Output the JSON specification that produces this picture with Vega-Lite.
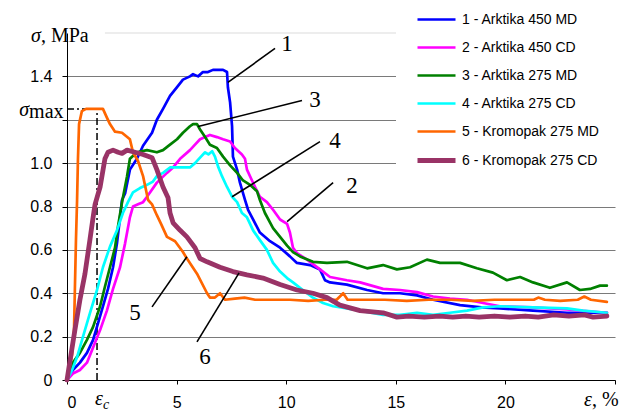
{
  "$schema": "https://vega.github.io/schema/vega-lite/v6.json",
  "width": 548,
  "height": 347,
  "autosize": {"type": "none"},
  "padding": {"left": 67, "top": 33, "right": 13, "bottom": 33},
  "background": "white",
  "config": {
    "view": {"stroke": null},
    "font": "Liberation Sans"
  },
  "datasets": {
    "curves": [
      {"curve": "1 - Arktika 450 MD", "x": 0, "y": 0},
      {"curve": "1 - Arktika 450 MD", "x": 0.27, "y": 0.046},
      {"curve": "1 - Arktika 450 MD", "x": 0.59, "y": 0.08},
      {"curve": "1 - Arktika 450 MD", "x": 0.91, "y": 0.125},
      {"curve": "1 - Arktika 450 MD", "x": 1.19, "y": 0.185},
      {"curve": "1 - Arktika 450 MD", "x": 1.41, "y": 0.26},
      {"curve": "1 - Arktika 450 MD", "x": 1.64, "y": 0.34},
      {"curve": "1 - Arktika 450 MD", "x": 1.87, "y": 0.42},
      {"curve": "1 - Arktika 450 MD", "x": 2.1, "y": 0.52},
      {"curve": "1 - Arktika 450 MD", "x": 2.28, "y": 0.63},
      {"curve": "1 - Arktika 450 MD", "x": 2.42, "y": 0.75},
      {"curve": "1 - Arktika 450 MD", "x": 2.51, "y": 0.83},
      {"curve": "1 - Arktika 450 MD", "x": 2.65, "y": 0.86},
      {"curve": "1 - Arktika 450 MD", "x": 2.87, "y": 0.97},
      {"curve": "1 - Arktika 450 MD", "x": 3.19, "y": 1.02},
      {"curve": "1 - Arktika 450 MD", "x": 3.47, "y": 1.08},
      {"curve": "1 - Arktika 450 MD", "x": 3.88, "y": 1.14},
      {"curve": "1 - Arktika 450 MD", "x": 4.1, "y": 1.2},
      {"curve": "1 - Arktika 450 MD", "x": 4.38, "y": 1.25},
      {"curve": "1 - Arktika 450 MD", "x": 4.7, "y": 1.31},
      {"curve": "1 - Arktika 450 MD", "x": 5.02, "y": 1.35},
      {"curve": "1 - Arktika 450 MD", "x": 5.29, "y": 1.385},
      {"curve": "1 - Arktika 450 MD", "x": 5.61, "y": 1.4},
      {"curve": "1 - Arktika 450 MD", "x": 5.75, "y": 1.41},
      {"curve": "1 - Arktika 450 MD", "x": 5.98, "y": 1.4},
      {"curve": "1 - Arktika 450 MD", "x": 6.2, "y": 1.42},
      {"curve": "1 - Arktika 450 MD", "x": 6.43, "y": 1.42},
      {"curve": "1 - Arktika 450 MD", "x": 6.66, "y": 1.43},
      {"curve": "1 - Arktika 450 MD", "x": 7.12, "y": 1.43},
      {"curve": "1 - Arktika 450 MD", "x": 7.3, "y": 1.42},
      {"curve": "1 - Arktika 450 MD", "x": 7.34, "y": 1.35},
      {"curve": "1 - Arktika 450 MD", "x": 7.44, "y": 1.28},
      {"curve": "1 - Arktika 450 MD", "x": 7.53, "y": 1.17},
      {"curve": "1 - Arktika 450 MD", "x": 7.57, "y": 1.03},
      {"curve": "1 - Arktika 450 MD", "x": 7.76, "y": 0.97},
      {"curve": "1 - Arktika 450 MD", "x": 7.89, "y": 0.91},
      {"curve": "1 - Arktika 450 MD", "x": 8.12, "y": 0.83},
      {"curve": "1 - Arktika 450 MD", "x": 8.26, "y": 0.785},
      {"curve": "1 - Arktika 450 MD", "x": 8.44, "y": 0.75},
      {"curve": "1 - Arktika 450 MD", "x": 8.8, "y": 0.68},
      {"curve": "1 - Arktika 450 MD", "x": 9.26, "y": 0.64},
      {"curve": "1 - Arktika 450 MD", "x": 9.72, "y": 0.61},
      {"curve": "1 - Arktika 450 MD", "x": 10.17, "y": 0.57},
      {"curve": "1 - Arktika 450 MD", "x": 10.49, "y": 0.54},
      {"curve": "1 - Arktika 450 MD", "x": 11.09, "y": 0.53},
      {"curve": "1 - Arktika 450 MD", "x": 11.54, "y": 0.51},
      {"curve": "1 - Arktika 450 MD", "x": 11.77, "y": 0.46},
      {"curve": "1 - Arktika 450 MD", "x": 12.0, "y": 0.45},
      {"curve": "1 - Arktika 450 MD", "x": 12.77, "y": 0.44},
      {"curve": "1 - Arktika 450 MD", "x": 13.69, "y": 0.415},
      {"curve": "1 - Arktika 450 MD", "x": 14.42, "y": 0.4},
      {"curve": "1 - Arktika 450 MD", "x": 15.19, "y": 0.4},
      {"curve": "1 - Arktika 450 MD", "x": 15.97, "y": 0.39},
      {"curve": "1 - Arktika 450 MD", "x": 16.7, "y": 0.37},
      {"curve": "1 - Arktika 450 MD", "x": 17.93, "y": 0.345},
      {"curve": "1 - Arktika 450 MD", "x": 18.9, "y": 0.335},
      {"curve": "1 - Arktika 450 MD", "x": 19.75, "y": 0.33},
      {"curve": "1 - Arktika 450 MD", "x": 21.26, "y": 0.32},
      {"curve": "1 - Arktika 450 MD", "x": 22.81, "y": 0.31},
      {"curve": "1 - Arktika 450 MD", "x": 24.63, "y": 0.31},

      {"curve": "2 - Arktika 450 CD", "x": 0, "y": 0},
      {"curve": "2 - Arktika 450 CD", "x": 0.27, "y": 0.03},
      {"curve": "2 - Arktika 450 CD", "x": 0.59, "y": 0.046},
      {"curve": "2 - Arktika 450 CD", "x": 0.91, "y": 0.08},
      {"curve": "2 - Arktika 450 CD", "x": 1.19, "y": 0.15},
      {"curve": "2 - Arktika 450 CD", "x": 1.51, "y": 0.23},
      {"curve": "2 - Arktika 450 CD", "x": 1.82, "y": 0.32},
      {"curve": "2 - Arktika 450 CD", "x": 2.1, "y": 0.42},
      {"curve": "2 - Arktika 450 CD", "x": 2.42, "y": 0.52},
      {"curve": "2 - Arktika 450 CD", "x": 2.65, "y": 0.63},
      {"curve": "2 - Arktika 450 CD", "x": 2.87, "y": 0.75},
      {"curve": "2 - Arktika 450 CD", "x": 3.01, "y": 0.8},
      {"curve": "2 - Arktika 450 CD", "x": 3.24, "y": 0.81},
      {"curve": "2 - Arktika 450 CD", "x": 3.47, "y": 0.82},
      {"curve": "2 - Arktika 450 CD", "x": 3.65, "y": 0.845},
      {"curve": "2 - Arktika 450 CD", "x": 4.1, "y": 0.91},
      {"curve": "2 - Arktika 450 CD", "x": 4.56, "y": 0.955},
      {"curve": "2 - Arktika 450 CD", "x": 4.84, "y": 0.98},
      {"curve": "2 - Arktika 450 CD", "x": 5.16, "y": 1.02},
      {"curve": "2 - Arktika 450 CD", "x": 5.61, "y": 1.06},
      {"curve": "2 - Arktika 450 CD", "x": 5.84, "y": 1.085},
      {"curve": "2 - Arktika 450 CD", "x": 6.07, "y": 1.11},
      {"curve": "2 - Arktika 450 CD", "x": 6.3, "y": 1.12},
      {"curve": "2 - Arktika 450 CD", "x": 6.52, "y": 1.13},
      {"curve": "2 - Arktika 450 CD", "x": 6.84, "y": 1.12},
      {"curve": "2 - Arktika 450 CD", "x": 7.12, "y": 1.11},
      {"curve": "2 - Arktika 450 CD", "x": 7.44, "y": 1.1},
      {"curve": "2 - Arktika 450 CD", "x": 7.66, "y": 1.07},
      {"curve": "2 - Arktika 450 CD", "x": 7.98, "y": 1.04},
      {"curve": "2 - Arktika 450 CD", "x": 8.12, "y": 1.02},
      {"curve": "2 - Arktika 450 CD", "x": 8.21, "y": 0.97},
      {"curve": "2 - Arktika 450 CD", "x": 8.44, "y": 0.92},
      {"curve": "2 - Arktika 450 CD", "x": 8.58, "y": 0.89},
      {"curve": "2 - Arktika 450 CD", "x": 8.8, "y": 0.845},
      {"curve": "2 - Arktika 450 CD", "x": 9.12, "y": 0.82},
      {"curve": "2 - Arktika 450 CD", "x": 9.4, "y": 0.785},
      {"curve": "2 - Arktika 450 CD", "x": 9.72, "y": 0.74},
      {"curve": "2 - Arktika 450 CD", "x": 10.04, "y": 0.72},
      {"curve": "2 - Arktika 450 CD", "x": 10.17, "y": 0.68},
      {"curve": "2 - Arktika 450 CD", "x": 10.31, "y": 0.61},
      {"curve": "2 - Arktika 450 CD", "x": 10.49, "y": 0.585},
      {"curve": "2 - Arktika 450 CD", "x": 10.95, "y": 0.555},
      {"curve": "2 - Arktika 450 CD", "x": 11.54, "y": 0.51},
      {"curve": "2 - Arktika 450 CD", "x": 12.0, "y": 0.475},
      {"curve": "2 - Arktika 450 CD", "x": 12.77, "y": 0.46},
      {"curve": "2 - Arktika 450 CD", "x": 13.37, "y": 0.45},
      {"curve": "2 - Arktika 450 CD", "x": 14.42, "y": 0.42},
      {"curve": "2 - Arktika 450 CD", "x": 15.19, "y": 0.415},
      {"curve": "2 - Arktika 450 CD", "x": 15.97, "y": 0.405},
      {"curve": "2 - Arktika 450 CD", "x": 16.7, "y": 0.385},
      {"curve": "2 - Arktika 450 CD", "x": 17.47, "y": 0.375},
      {"curve": "2 - Arktika 450 CD", "x": 18.25, "y": 0.37},
      {"curve": "2 - Arktika 450 CD", "x": 18.98, "y": 0.355},
      {"curve": "2 - Arktika 450 CD", "x": 19.75, "y": 0.34},
      {"curve": "2 - Arktika 450 CD", "x": 21.26, "y": 0.335},
      {"curve": "2 - Arktika 450 CD", "x": 22.81, "y": 0.325},
      {"curve": "2 - Arktika 450 CD", "x": 24.63, "y": 0.31},

      {"curve": "3 - Arktika 275 MD", "x": 0, "y": 0},
      {"curve": "3 - Arktika 275 MD", "x": 0.27, "y": 0.08},
      {"curve": "3 - Arktika 275 MD", "x": 0.59, "y": 0.125},
      {"curve": "3 - Arktika 275 MD", "x": 0.91, "y": 0.185},
      {"curve": "3 - Arktika 275 MD", "x": 1.19, "y": 0.245},
      {"curve": "3 - Arktika 275 MD", "x": 1.51, "y": 0.34},
      {"curve": "3 - Arktika 275 MD", "x": 1.73, "y": 0.43},
      {"curve": "3 - Arktika 275 MD", "x": 1.96, "y": 0.52},
      {"curve": "3 - Arktika 275 MD", "x": 2.19, "y": 0.61},
      {"curve": "3 - Arktika 275 MD", "x": 2.33, "y": 0.71},
      {"curve": "3 - Arktika 275 MD", "x": 2.51, "y": 0.82},
      {"curve": "3 - Arktika 275 MD", "x": 2.74, "y": 0.94},
      {"curve": "3 - Arktika 275 MD", "x": 2.87, "y": 1.02},
      {"curve": "3 - Arktika 275 MD", "x": 3.19, "y": 1.05},
      {"curve": "3 - Arktika 275 MD", "x": 3.65, "y": 1.06},
      {"curve": "3 - Arktika 275 MD", "x": 4.1, "y": 1.05},
      {"curve": "3 - Arktika 275 MD", "x": 4.38, "y": 1.06},
      {"curve": "3 - Arktika 275 MD", "x": 4.7, "y": 1.085},
      {"curve": "3 - Arktika 275 MD", "x": 5.02, "y": 1.11},
      {"curve": "3 - Arktika 275 MD", "x": 5.29, "y": 1.14},
      {"curve": "3 - Arktika 275 MD", "x": 5.61, "y": 1.17},
      {"curve": "3 - Arktika 275 MD", "x": 5.75, "y": 1.18},
      {"curve": "3 - Arktika 275 MD", "x": 5.93, "y": 1.18},
      {"curve": "3 - Arktika 275 MD", "x": 6.07, "y": 1.155},
      {"curve": "3 - Arktika 275 MD", "x": 6.3, "y": 1.12},
      {"curve": "3 - Arktika 275 MD", "x": 6.52, "y": 1.085},
      {"curve": "3 - Arktika 275 MD", "x": 6.84, "y": 1.07},
      {"curve": "3 - Arktika 275 MD", "x": 7.12, "y": 1.03},
      {"curve": "3 - Arktika 275 MD", "x": 7.44, "y": 0.99},
      {"curve": "3 - Arktika 275 MD", "x": 7.76, "y": 0.955},
      {"curve": "3 - Arktika 275 MD", "x": 8.03, "y": 0.92},
      {"curve": "3 - Arktika 275 MD", "x": 8.35, "y": 0.9},
      {"curve": "3 - Arktika 275 MD", "x": 8.67, "y": 0.87},
      {"curve": "3 - Arktika 275 MD", "x": 8.8, "y": 0.83},
      {"curve": "3 - Arktika 275 MD", "x": 9.03, "y": 0.77},
      {"curve": "3 - Arktika 275 MD", "x": 9.4, "y": 0.7},
      {"curve": "3 - Arktika 275 MD", "x": 9.72, "y": 0.66},
      {"curve": "3 - Arktika 275 MD", "x": 10.04, "y": 0.62},
      {"curve": "3 - Arktika 275 MD", "x": 10.31, "y": 0.59},
      {"curve": "3 - Arktika 275 MD", "x": 10.63, "y": 0.57},
      {"curve": "3 - Arktika 275 MD", "x": 11.22, "y": 0.545},
      {"curve": "3 - Arktika 275 MD", "x": 11.86, "y": 0.54},
      {"curve": "3 - Arktika 275 MD", "x": 12.77, "y": 0.545},
      {"curve": "3 - Arktika 275 MD", "x": 13.69, "y": 0.515},
      {"curve": "3 - Arktika 275 MD", "x": 14.42, "y": 0.53},
      {"curve": "3 - Arktika 275 MD", "x": 15.05, "y": 0.51},
      {"curve": "3 - Arktika 275 MD", "x": 15.65, "y": 0.52},
      {"curve": "3 - Arktika 275 MD", "x": 16.42, "y": 0.555},
      {"curve": "3 - Arktika 275 MD", "x": 17.02, "y": 0.54},
      {"curve": "3 - Arktika 275 MD", "x": 17.93, "y": 0.54},
      {"curve": "3 - Arktika 275 MD", "x": 18.7, "y": 0.515},
      {"curve": "3 - Arktika 275 MD", "x": 19.43, "y": 0.495},
      {"curve": "3 - Arktika 275 MD", "x": 20.07, "y": 0.46},
      {"curve": "3 - Arktika 275 MD", "x": 20.67, "y": 0.475},
      {"curve": "3 - Arktika 275 MD", "x": 21.26, "y": 0.45},
      {"curve": "3 - Arktika 275 MD", "x": 22.03, "y": 0.425},
      {"curve": "3 - Arktika 275 MD", "x": 22.81, "y": 0.45},
      {"curve": "3 - Arktika 275 MD", "x": 23.4, "y": 0.415},
      {"curve": "3 - Arktika 275 MD", "x": 23.86, "y": 0.42},
      {"curve": "3 - Arktika 275 MD", "x": 24.32, "y": 0.435},
      {"curve": "3 - Arktika 275 MD", "x": 24.63, "y": 0.435},

      {"curve": "4 - Arktika 275 CD", "x": 0, "y": 0},
      {"curve": "4 - Arktika 275 CD", "x": 0.23, "y": 0.046},
      {"curve": "4 - Arktika 275 CD", "x": 0.46, "y": 0.106},
      {"curve": "4 - Arktika 275 CD", "x": 0.73, "y": 0.2},
      {"curve": "4 - Arktika 275 CD", "x": 1.05, "y": 0.31},
      {"curve": "4 - Arktika 275 CD", "x": 1.37, "y": 0.415},
      {"curve": "4 - Arktika 275 CD", "x": 1.64, "y": 0.52},
      {"curve": "4 - Arktika 275 CD", "x": 1.96, "y": 0.615},
      {"curve": "4 - Arktika 275 CD", "x": 2.28, "y": 0.69},
      {"curve": "4 - Arktika 275 CD", "x": 2.55, "y": 0.77},
      {"curve": "4 - Arktika 275 CD", "x": 2.78, "y": 0.82},
      {"curve": "4 - Arktika 275 CD", "x": 3.01, "y": 0.865},
      {"curve": "4 - Arktika 275 CD", "x": 3.33, "y": 0.885},
      {"curve": "4 - Arktika 275 CD", "x": 3.65, "y": 0.9},
      {"curve": "4 - Arktika 275 CD", "x": 3.92, "y": 0.915},
      {"curve": "4 - Arktika 275 CD", "x": 4.1, "y": 0.94},
      {"curve": "4 - Arktika 275 CD", "x": 4.38, "y": 0.955},
      {"curve": "4 - Arktika 275 CD", "x": 4.7, "y": 0.98},
      {"curve": "4 - Arktika 275 CD", "x": 5.61, "y": 0.98},
      {"curve": "4 - Arktika 275 CD", "x": 5.84, "y": 1.0},
      {"curve": "4 - Arktika 275 CD", "x": 6.07, "y": 1.025},
      {"curve": "4 - Arktika 275 CD", "x": 6.3, "y": 1.05},
      {"curve": "4 - Arktika 275 CD", "x": 6.45, "y": 1.04},
      {"curve": "4 - Arktika 275 CD", "x": 6.62, "y": 1.055},
      {"curve": "4 - Arktika 275 CD", "x": 6.75, "y": 1.03},
      {"curve": "4 - Arktika 275 CD", "x": 6.89, "y": 0.985},
      {"curve": "4 - Arktika 275 CD", "x": 7.07, "y": 0.94},
      {"curve": "4 - Arktika 275 CD", "x": 7.3, "y": 0.89},
      {"curve": "4 - Arktika 275 CD", "x": 7.53, "y": 0.845},
      {"curve": "4 - Arktika 275 CD", "x": 7.76, "y": 0.82},
      {"curve": "4 - Arktika 275 CD", "x": 7.98, "y": 0.77},
      {"curve": "4 - Arktika 275 CD", "x": 8.21, "y": 0.75},
      {"curve": "4 - Arktika 275 CD", "x": 8.49, "y": 0.69},
      {"curve": "4 - Arktika 275 CD", "x": 8.8, "y": 0.645},
      {"curve": "4 - Arktika 275 CD", "x": 9.12, "y": 0.6},
      {"curve": "4 - Arktika 275 CD", "x": 9.4, "y": 0.54},
      {"curve": "4 - Arktika 275 CD", "x": 9.72, "y": 0.5},
      {"curve": "4 - Arktika 275 CD", "x": 10.04, "y": 0.47},
      {"curve": "4 - Arktika 275 CD", "x": 10.31, "y": 0.45},
      {"curve": "4 - Arktika 275 CD", "x": 10.63, "y": 0.425},
      {"curve": "4 - Arktika 275 CD", "x": 10.95, "y": 0.4},
      {"curve": "4 - Arktika 275 CD", "x": 11.22, "y": 0.38},
      {"curve": "4 - Arktika 275 CD", "x": 11.68, "y": 0.355},
      {"curve": "4 - Arktika 275 CD", "x": 12.14, "y": 0.34},
      {"curve": "4 - Arktika 275 CD", "x": 12.77, "y": 0.33},
      {"curve": "4 - Arktika 275 CD", "x": 13.37, "y": 0.32},
      {"curve": "4 - Arktika 275 CD", "x": 14.42, "y": 0.3},
      {"curve": "4 - Arktika 275 CD", "x": 15.19, "y": 0.3},
      {"curve": "4 - Arktika 275 CD", "x": 15.97, "y": 0.31},
      {"curve": "4 - Arktika 275 CD", "x": 16.7, "y": 0.3},
      {"curve": "4 - Arktika 275 CD", "x": 17.47, "y": 0.31},
      {"curve": "4 - Arktika 275 CD", "x": 18.25, "y": 0.32},
      {"curve": "4 - Arktika 275 CD", "x": 18.98, "y": 0.335},
      {"curve": "4 - Arktika 275 CD", "x": 19.75, "y": 0.34},
      {"curve": "4 - Arktika 275 CD", "x": 21.26, "y": 0.335},
      {"curve": "4 - Arktika 275 CD", "x": 22.81, "y": 0.33},
      {"curve": "4 - Arktika 275 CD", "x": 23.54, "y": 0.32},
      {"curve": "4 - Arktika 275 CD", "x": 24.63, "y": 0.31},

      {"curve": "5 - Kromopak 275 MD", "x": 0, "y": 0},
      {"curve": "5 - Kromopak 275 MD", "x": 0.23, "y": 0.115},
      {"curve": "5 - Kromopak 275 MD", "x": 0.32, "y": 0.23},
      {"curve": "5 - Kromopak 275 MD", "x": 0.36, "y": 0.42},
      {"curve": "5 - Kromopak 275 MD", "x": 0.41, "y": 0.65},
      {"curve": "5 - Kromopak 275 MD", "x": 0.46, "y": 0.83},
      {"curve": "5 - Kromopak 275 MD", "x": 0.5, "y": 1.02},
      {"curve": "5 - Kromopak 275 MD", "x": 0.55, "y": 1.18},
      {"curve": "5 - Kromopak 275 MD", "x": 0.68, "y": 1.24},
      {"curve": "5 - Kromopak 275 MD", "x": 0.87, "y": 1.25},
      {"curve": "5 - Kromopak 275 MD", "x": 1.64, "y": 1.25},
      {"curve": "5 - Kromopak 275 MD", "x": 1.82, "y": 1.21},
      {"curve": "5 - Kromopak 275 MD", "x": 1.96, "y": 1.18},
      {"curve": "5 - Kromopak 275 MD", "x": 2.19, "y": 1.145},
      {"curve": "5 - Kromopak 275 MD", "x": 2.51, "y": 1.14},
      {"curve": "5 - Kromopak 275 MD", "x": 2.87, "y": 1.11},
      {"curve": "5 - Kromopak 275 MD", "x": 3.01, "y": 1.05},
      {"curve": "5 - Kromopak 275 MD", "x": 3.24, "y": 1.01},
      {"curve": "5 - Kromopak 275 MD", "x": 3.47, "y": 0.94},
      {"curve": "5 - Kromopak 275 MD", "x": 3.7, "y": 0.83},
      {"curve": "5 - Kromopak 275 MD", "x": 3.88, "y": 0.81},
      {"curve": "5 - Kromopak 275 MD", "x": 4.1, "y": 0.76},
      {"curve": "5 - Kromopak 275 MD", "x": 4.29, "y": 0.72},
      {"curve": "5 - Kromopak 275 MD", "x": 4.56, "y": 0.66},
      {"curve": "5 - Kromopak 275 MD", "x": 4.93, "y": 0.64},
      {"curve": "5 - Kromopak 275 MD", "x": 5.29, "y": 0.59},
      {"curve": "5 - Kromopak 275 MD", "x": 5.47, "y": 0.56},
      {"curve": "5 - Kromopak 275 MD", "x": 5.93, "y": 0.49},
      {"curve": "5 - Kromopak 275 MD", "x": 6.39, "y": 0.4},
      {"curve": "5 - Kromopak 275 MD", "x": 6.52, "y": 0.38},
      {"curve": "5 - Kromopak 275 MD", "x": 6.75, "y": 0.38},
      {"curve": "5 - Kromopak 275 MD", "x": 6.98, "y": 0.4},
      {"curve": "5 - Kromopak 275 MD", "x": 7.21, "y": 0.37},
      {"curve": "5 - Kromopak 275 MD", "x": 7.66, "y": 0.375},
      {"curve": "5 - Kromopak 275 MD", "x": 8.1, "y": 0.38},
      {"curve": "5 - Kromopak 275 MD", "x": 8.58, "y": 0.37},
      {"curve": "5 - Kromopak 275 MD", "x": 9.26, "y": 0.37},
      {"curve": "5 - Kromopak 275 MD", "x": 10.17, "y": 0.37},
      {"curve": "5 - Kromopak 275 MD", "x": 11.0, "y": 0.365},
      {"curve": "5 - Kromopak 275 MD", "x": 11.8, "y": 0.37},
      {"curve": "5 - Kromopak 275 MD", "x": 12.3, "y": 0.37},
      {"curve": "5 - Kromopak 275 MD", "x": 12.6, "y": 0.4},
      {"curve": "5 - Kromopak 275 MD", "x": 12.8, "y": 0.37},
      {"curve": "5 - Kromopak 275 MD", "x": 13.5, "y": 0.37},
      {"curve": "5 - Kromopak 275 MD", "x": 14.5, "y": 0.37},
      {"curve": "5 - Kromopak 275 MD", "x": 15.5, "y": 0.365},
      {"curve": "5 - Kromopak 275 MD", "x": 16.5, "y": 0.37},
      {"curve": "5 - Kromopak 275 MD", "x": 17.5, "y": 0.37},
      {"curve": "5 - Kromopak 275 MD", "x": 18.5, "y": 0.365},
      {"curve": "5 - Kromopak 275 MD", "x": 19.5, "y": 0.37},
      {"curve": "5 - Kromopak 275 MD", "x": 20.5, "y": 0.37},
      {"curve": "5 - Kromopak 275 MD", "x": 21.3, "y": 0.37},
      {"curve": "5 - Kromopak 275 MD", "x": 21.5, "y": 0.38},
      {"curve": "5 - Kromopak 275 MD", "x": 21.8, "y": 0.37},
      {"curve": "5 - Kromopak 275 MD", "x": 22.5, "y": 0.365},
      {"curve": "5 - Kromopak 275 MD", "x": 23.3, "y": 0.37},
      {"curve": "5 - Kromopak 275 MD", "x": 23.6, "y": 0.385},
      {"curve": "5 - Kromopak 275 MD", "x": 23.9, "y": 0.37},
      {"curve": "5 - Kromopak 275 MD", "x": 24.63, "y": 0.36},

      {"curve": "6 - Kromopak 275 CD", "x": 0, "y": 0},
      {"curve": "6 - Kromopak 275 CD", "x": 0.14, "y": 0.09},
      {"curve": "6 - Kromopak 275 CD", "x": 0.36, "y": 0.23},
      {"curve": "6 - Kromopak 275 CD", "x": 0.59, "y": 0.37},
      {"curve": "6 - Kromopak 275 CD", "x": 0.82, "y": 0.49},
      {"curve": "6 - Kromopak 275 CD", "x": 1.05, "y": 0.65},
      {"curve": "6 - Kromopak 275 CD", "x": 1.19, "y": 0.75},
      {"curve": "6 - Kromopak 275 CD", "x": 1.28, "y": 0.81},
      {"curve": "6 - Kromopak 275 CD", "x": 1.51, "y": 0.89},
      {"curve": "6 - Kromopak 275 CD", "x": 1.73, "y": 1.02},
      {"curve": "6 - Kromopak 275 CD", "x": 1.87, "y": 1.05},
      {"curve": "6 - Kromopak 275 CD", "x": 2.1, "y": 1.06},
      {"curve": "6 - Kromopak 275 CD", "x": 2.33, "y": 1.05},
      {"curve": "6 - Kromopak 275 CD", "x": 2.51, "y": 1.045},
      {"curve": "6 - Kromopak 275 CD", "x": 2.74, "y": 1.06},
      {"curve": "6 - Kromopak 275 CD", "x": 3.1, "y": 1.05},
      {"curve": "6 - Kromopak 275 CD", "x": 3.47, "y": 1.04},
      {"curve": "6 - Kromopak 275 CD", "x": 3.88, "y": 1.025},
      {"curve": "6 - Kromopak 275 CD", "x": 4.1, "y": 0.97},
      {"curve": "6 - Kromopak 275 CD", "x": 4.38, "y": 0.89},
      {"curve": "6 - Kromopak 275 CD", "x": 4.61, "y": 0.84},
      {"curve": "6 - Kromopak 275 CD", "x": 4.7, "y": 0.77},
      {"curve": "6 - Kromopak 275 CD", "x": 4.84, "y": 0.725},
      {"curve": "6 - Kromopak 275 CD", "x": 5.16, "y": 0.69},
      {"curve": "6 - Kromopak 275 CD", "x": 5.47, "y": 0.66},
      {"curve": "6 - Kromopak 275 CD", "x": 5.84, "y": 0.61},
      {"curve": "6 - Kromopak 275 CD", "x": 6.07, "y": 0.56},
      {"curve": "6 - Kromopak 275 CD", "x": 6.39, "y": 0.545},
      {"curve": "6 - Kromopak 275 CD", "x": 6.98, "y": 0.52},
      {"curve": "6 - Kromopak 275 CD", "x": 7.57, "y": 0.5},
      {"curve": "6 - Kromopak 275 CD", "x": 8.21, "y": 0.485},
      {"curve": "6 - Kromopak 275 CD", "x": 8.94, "y": 0.47},
      {"curve": "6 - Kromopak 275 CD", "x": 9.72, "y": 0.44},
      {"curve": "6 - Kromopak 275 CD", "x": 10.49, "y": 0.415},
      {"curve": "6 - Kromopak 275 CD", "x": 11.22, "y": 0.4},
      {"curve": "6 - Kromopak 275 CD", "x": 11.86, "y": 0.38},
      {"curve": "6 - Kromopak 275 CD", "x": 12.45, "y": 0.345},
      {"curve": "6 - Kromopak 275 CD", "x": 13.37, "y": 0.32},
      {"curve": "6 - Kromopak 275 CD", "x": 14.42, "y": 0.31},
      {"curve": "6 - Kromopak 275 CD", "x": 15.05, "y": 0.29},
      {"curve": "6 - Kromopak 275 CD", "x": 15.6, "y": 0.295},
      {"curve": "6 - Kromopak 275 CD", "x": 16.3, "y": 0.29},
      {"curve": "6 - Kromopak 275 CD", "x": 17.0, "y": 0.295},
      {"curve": "6 - Kromopak 275 CD", "x": 17.6, "y": 0.29},
      {"curve": "6 - Kromopak 275 CD", "x": 18.2, "y": 0.295},
      {"curve": "6 - Kromopak 275 CD", "x": 18.8, "y": 0.29},
      {"curve": "6 - Kromopak 275 CD", "x": 19.5, "y": 0.295},
      {"curve": "6 - Kromopak 275 CD", "x": 20.2, "y": 0.29},
      {"curve": "6 - Kromopak 275 CD", "x": 20.9, "y": 0.295},
      {"curve": "6 - Kromopak 275 CD", "x": 21.5, "y": 0.29},
      {"curve": "6 - Kromopak 275 CD", "x": 22.2, "y": 0.3},
      {"curve": "6 - Kromopak 275 CD", "x": 22.9, "y": 0.295},
      {"curve": "6 - Kromopak 275 CD", "x": 23.6, "y": 0.3},
      {"curve": "6 - Kromopak 275 CD", "x": 24.0, "y": 0.29},
      {"curve": "6 - Kromopak 275 CD", "x": 24.63, "y": 0.295}
    ],
    "leaders": [
      {"n": "1", "x": 9.49, "y": 1.529, "x2": 7.34, "y2": 1.372},
      {"n": "2", "x": 12.14, "y": 0.91, "x2": 10.04, "y2": 0.73},
      {"n": "3", "x": 10.72, "y": 1.289, "x2": 5.98, "y2": 1.169},
      {"n": "4", "x": 11.54, "y": 1.099, "x2": 7.53, "y2": 0.845},
      {"n": "5", "x": 5.47, "y": 0.568, "x2": 3.88, "y2": 0.337},
      {"n": "6", "x": 7.85, "y": 0.494, "x2": 5.93, "y2": 0.176}
    ],
    "numbers": [
      {"t": "1", "x": 10.04, "y": 1.547},
      {"t": "2", "x": 13.0, "y": 0.896},
      {"t": "3", "x": 11.31, "y": 1.293},
      {"t": "4", "x": 12.23, "y": 1.104},
      {"t": "5", "x": 3.1, "y": 0.309},
      {"t": "6", "x": 6.3, "y": 0.106}
    ],
    "peakGuides": [
      {"x": 1.37, "y": 0, "x2": 1.37, "y2": 1.25},
      {"x": 0, "y": 1.25, "x2": 1.37, "y2": 1.25}
    ],
    "topGrid": [
      {"x": 1.73, "y": 1.6, "x2": 25}
    ],
    "italicSymbols": [
      {"t": "σ", "x": -1.73, "y": 1.215},
      {"t": "σ", "x": -1.19, "y": 1.56},
      {"t": "ε", "x": 1.64, "y": -0.115},
      {"t": "ε", "x": 23.95, "y": -0.12}
    ],
    "uprightText": [
      {"t": "max", "x": -1.73, "y": 1.206},
      {"t": ", MPa", "x": -1.19, "y": 1.56},
      {"t": ", %", "x": 23.95, "y": -0.12}
    ],
    "subscripts": [
      {"t": "c", "x": 1.64, "y": -0.133}
    ]
  },
  "encoding": {
    "x": {
      "field": "x",
      "type": "quantitative",
      "scale": {"domain": [0, 25], "nice": false, "zero": false},
      "axis": {
        "title": null,
        "values": [0, 5, 10, 15, 20, 25],
        "labelExpr": "datum.value == 25 ? '' : datum.label",
        "grid": false,
        "domainColor": "black",
        "domainWidth": 1,
        "tickColor": "black",
        "tickSize": 4,
        "labelFont": "Liberation Sans",
        "labelFontSize": 16,
        "labelColor": "black",
        "labelPadding": 10
      }
    },
    "y": {
      "field": "y",
      "type": "quantitative",
      "scale": {"domain": [0, 1.6], "nice": false, "zero": false},
      "axis": {
        "title": null,
        "values": [0, 0.2, 0.4, 0.6, 0.8, 1.0, 1.2, 1.4],
        "labelExpr": "datum.value == 0 ? '0' : (datum.value > 1.1 && datum.value < 1.3) ? '' : format(datum.value, '.1f')",
        "grid": true,
        "gridColor": "#7a7a7a",
        "gridWidth": 1.2,
        "domainColor": "black",
        "domainWidth": 1,
        "tickColor": "black",
        "tickSize": 5,
        "labelFont": "Liberation Sans",
        "labelFontSize": 16,
        "labelColor": "black",
        "labelPadding": 10
      }
    }
  },
  "layer": [
    {
      "data": {"name": "topGrid"},
      "mark": {"type": "rule", "color": "#dcdcdc", "strokeWidth": 1.2},
      "encoding": {"x2": {"field": "x2"}}
    },
    {
      "data": {"name": "peakGuides"},
      "mark": {"type": "rule", "color": "black", "strokeWidth": 1.5, "strokeDash": [7, 3, 2, 3]},
      "encoding": {"x2": {"field": "x2"}, "y2": {"field": "y2"}}
    },
    {
      "data": {"name": "curves"},
      "mark": {"type": "line", "strokeJoin": "round", "strokeCap": "round"},
      "encoding": {
        "color": {
          "field": "curve",
          "type": "nominal",
          "scale": {
            "domain": ["1 - Arktika 450 MD", "2 - Arktika 450 CD", "3 - Arktika 275 MD", "4 - Arktika 275 CD", "5 - Kromopak 275 MD", "6 - Kromopak 275 CD"],
            "range": ["#0000ff", "#ff00ff", "#008000", "#00ffff", "#ff6600", "#993366"]
          },
          "legend": {
            "title": null,
            "orient": "none",
            "legendX": 329,
            "legendY": -53,
            "fillColor": "white",
            "padding": 19,
            "symbolType": "stroke",
            "symbolSize": 1444,
            "labelFont": "Liberation Sans",
            "labelFontSize": 14,
            "labelColor": "black",
            "labelOffset": 4,
            "rowPadding": -10
          }
        },
        "strokeWidth": {
          "field": "curve",
          "type": "nominal",
          "scale": {
            "type": "ordinal",
            "domain": ["1 - Arktika 450 MD", "2 - Arktika 450 CD", "3 - Arktika 275 MD", "4 - Arktika 275 CD", "5 - Kromopak 275 MD", "6 - Kromopak 275 CD"],
            "range": [2.7, 2.7, 2.7, 2.7, 2.7, 4.8]
          },
          "legend": {
            "title": null,
            "orient": "none",
            "legendX": 329,
            "legendY": -53,
            "fillColor": "white",
            "padding": 19,
            "symbolType": "stroke",
            "symbolSize": 1444,
            "labelFont": "Liberation Sans",
            "labelFontSize": 14,
            "labelColor": "black",
            "labelOffset": 4,
            "rowPadding": -10
          }
        }
      }
    },
    {
      "data": {"name": "leaders"},
      "mark": {"type": "rule", "color": "black", "strokeWidth": 1.6},
      "encoding": {"x2": {"field": "x2"}, "y2": {"field": "y2"}}
    },
    {
      "data": {"name": "numbers"},
      "mark": {"type": "text", "font": "Liberation Serif", "fontSize": 23, "color": "black", "align": "center", "baseline": "middle"},
      "encoding": {"text": {"field": "t"}}
    },
    {
      "data": {"name": "italicSymbols"},
      "mark": {"type": "text", "font": "Liberation Serif", "fontStyle": "italic", "fontSize": 20, "color": "black", "align": "right", "baseline": "alphabetic"},
      "encoding": {"text": {"field": "t"}}
    },
    {
      "data": {"name": "uprightText"},
      "mark": {"type": "text", "font": "Liberation Serif", "fontSize": 20, "color": "black", "align": "left", "baseline": "alphabetic"},
      "encoding": {"text": {"field": "t"}}
    },
    {
      "data": {"name": "subscripts"},
      "mark": {"type": "text", "font": "Liberation Serif", "fontStyle": "italic", "fontSize": 14, "color": "black", "align": "left", "baseline": "alphabetic"},
      "encoding": {"text": {"field": "t"}}
    }
  ]
}
